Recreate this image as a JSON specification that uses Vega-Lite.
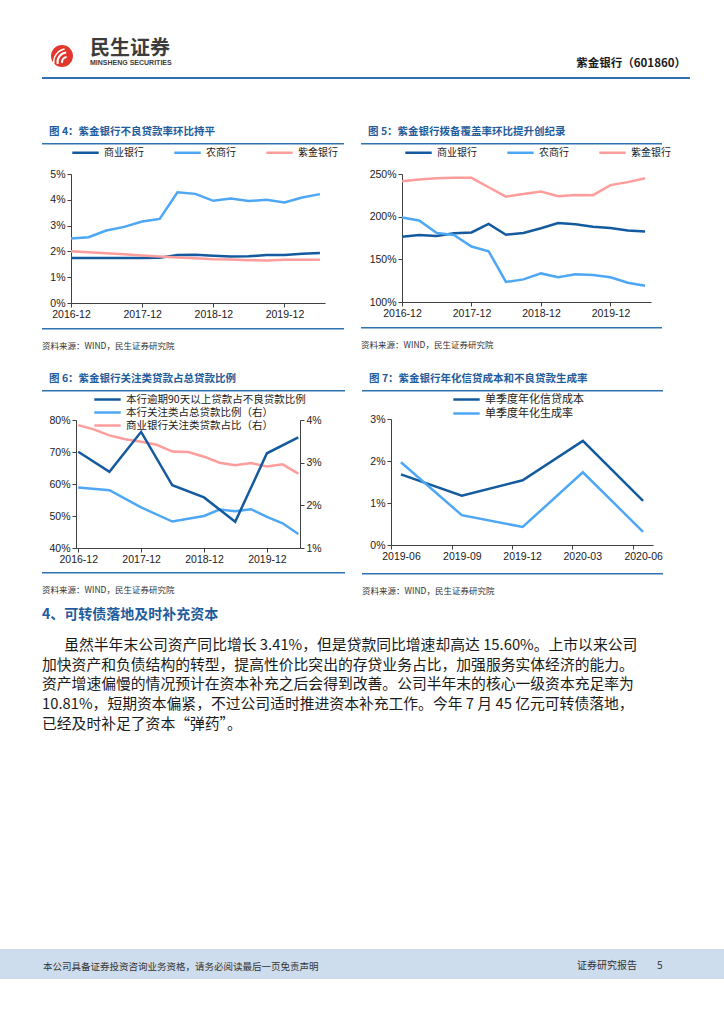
{
  "$schema": "https://vega.github.io/schema/vega-lite/v6.json",
  "background": "white",
  "padding": {"left": 0, "top": 30, "right": 0, "bottom": 0},
  "config": {
    "view": {"stroke": null},
    "font": "Noto Sans CJK SC",
    "axis": {"labelFont": "Liberation Sans", "labelFontSize": 10.5, "labelColor": "#1a1a1a", "domainColor": "#404040", "tickColor": "#404040", "domainWidth": 1, "tickSize": 4, "grid": false, "labelPadding": 2, "labelOverlap": false, "labelFlush": false, "labelBound": false},
    "legend": {"symbolType": "M-2.2,0H2.2", "symbolStrokeWidth": 3, "symbolSize": 144, "labelFont": "Noto Sans CJK SC", "labelFontSize": 10, "labelColor": "#1a1a1a", "labelOffset": 11, "columnPadding": 25, "padding": 0, "rowPadding": 0, "labelLimit": 400},
    "line": {"strokeWidth": 2.5, "clip": true},
    "title": {"font": "Noto Sans CJK SC", "anchor": "start", "frame": "group"}
  },
  "datasets": {
    "c4": [
      {"date":"2016-12-31","series":"商业银行","value":0.0174},{"date":"2017-03-31","series":"商业银行","value":0.0174},{"date":"2017-06-30","series":"商业银行","value":0.0174},{"date":"2017-09-30","series":"商业银行","value":0.0174},{"date":"2017-12-31","series":"商业银行","value":0.0174},{"date":"2018-03-31","series":"商业银行","value":0.0175},{"date":"2018-06-30","series":"商业银行","value":0.0186},{"date":"2018-09-30","series":"商业银行","value":0.0187},{"date":"2018-12-31","series":"商业银行","value":0.0183},{"date":"2019-03-31","series":"商业银行","value":0.0180},{"date":"2019-06-30","series":"商业银行","value":0.0181},{"date":"2019-09-30","series":"商业银行","value":0.0186},{"date":"2019-12-31","series":"商业银行","value":0.0186},{"date":"2020-03-31","series":"商业银行","value":0.0191},{"date":"2020-06-30","series":"商业银行","value":0.0194},
      {"date":"2016-12-31","series":"农商行","value":0.0250},{"date":"2017-03-31","series":"农商行","value":0.0255},{"date":"2017-06-30","series":"农商行","value":0.0281},{"date":"2017-09-30","series":"农商行","value":0.0295},{"date":"2017-12-31","series":"农商行","value":0.0316},{"date":"2018-03-31","series":"农商行","value":0.0326},{"date":"2018-06-30","series":"农商行","value":0.0429},{"date":"2018-09-30","series":"农商行","value":0.0423},{"date":"2018-12-31","series":"农商行","value":0.0396},{"date":"2019-03-31","series":"农商行","value":0.0405},{"date":"2019-06-30","series":"农商行","value":0.0395},{"date":"2019-09-30","series":"农商行","value":0.0400},{"date":"2019-12-31","series":"农商行","value":0.0390},{"date":"2020-03-31","series":"农商行","value":0.0409},{"date":"2020-06-30","series":"农商行","value":0.0422},
      {"date":"2016-12-31","series":"紫金银行","value":0.0201},{"date":"2017-03-31","series":"紫金银行","value":0.0197},{"date":"2017-06-30","series":"紫金银行","value":0.0193},{"date":"2017-09-30","series":"紫金银行","value":0.0189},{"date":"2017-12-31","series":"紫金银行","value":0.0184},{"date":"2018-03-31","series":"紫金银行","value":0.0180},{"date":"2018-06-30","series":"紫金银行","value":0.0176},{"date":"2018-09-30","series":"紫金银行","value":0.0173},{"date":"2018-12-31","series":"紫金银行","value":0.0170},{"date":"2019-03-31","series":"紫金银行","value":0.0169},{"date":"2019-06-30","series":"紫金银行","value":0.0166},{"date":"2019-09-30","series":"紫金银行","value":0.0165},{"date":"2019-12-31","series":"紫金银行","value":0.0168},{"date":"2020-03-31","series":"紫金银行","value":0.0168},{"date":"2020-06-30","series":"紫金银行","value":0.0168}
    ],
    "c5": [
      {"date":"2016-12-31","series":"商业银行","value":1.765},{"date":"2017-03-31","series":"商业银行","value":1.785},{"date":"2017-06-30","series":"商业银行","value":1.773},{"date":"2017-09-30","series":"商业银行","value":1.805},{"date":"2017-12-31","series":"商业银行","value":1.815},{"date":"2018-03-31","series":"商业银行","value":1.915},{"date":"2018-06-30","series":"商业银行","value":1.788},{"date":"2018-09-30","series":"商业银行","value":1.808},{"date":"2018-12-31","series":"商业银行","value":1.864},{"date":"2019-03-31","series":"商业银行","value":1.925},{"date":"2019-06-30","series":"商业银行","value":1.910},{"date":"2019-09-30","series":"商业银行","value":1.882},{"date":"2019-12-31","series":"商业银行","value":1.866},{"date":"2020-03-31","series":"商业银行","value":1.838},{"date":"2020-06-30","series":"商业银行","value":1.826},
      {"date":"2016-12-31","series":"农商行","value":1.99},{"date":"2017-03-31","series":"农商行","value":1.955},{"date":"2017-06-30","series":"农商行","value":1.81},{"date":"2017-09-30","series":"农商行","value":1.785},{"date":"2017-12-31","series":"农商行","value":1.65},{"date":"2018-03-31","series":"农商行","value":1.595},{"date":"2018-06-30","series":"农商行","value":1.235},{"date":"2018-09-30","series":"农商行","value":1.265},{"date":"2018-12-31","series":"农商行","value":1.335},{"date":"2019-03-31","series":"农商行","value":1.29},{"date":"2019-06-30","series":"农商行","value":1.325},{"date":"2019-09-30","series":"农商行","value":1.315},{"date":"2019-12-31","series":"农商行","value":1.29},{"date":"2020-03-31","series":"农商行","value":1.225},{"date":"2020-06-30","series":"农商行","value":1.19},
      {"date":"2016-12-31","series":"紫金银行","value":2.415},{"date":"2017-03-31","series":"紫金银行","value":2.435},{"date":"2017-06-30","series":"紫金银行","value":2.45},{"date":"2017-09-30","series":"紫金银行","value":2.455},{"date":"2017-12-31","series":"紫金银行","value":2.455},{"date":"2018-03-31","series":"紫金银行","value":2.345},{"date":"2018-06-30","series":"紫金银行","value":2.235},{"date":"2018-09-30","series":"紫金银行","value":2.265},{"date":"2018-12-31","series":"紫金银行","value":2.295},{"date":"2019-03-31","series":"紫金银行","value":2.24},{"date":"2019-06-30","series":"紫金银行","value":2.255},{"date":"2019-09-30","series":"紫金银行","value":2.252},{"date":"2019-12-31","series":"紫金银行","value":2.37},{"date":"2020-03-31","series":"紫金银行","value":2.405},{"date":"2020-06-30","series":"紫金银行","value":2.45}
    ],
    "c6": [
      {"date":"2016-12-31","series":"本行逾期90天以上贷款占不良贷款比例","value":0.701},{"date":"2017-06-30","series":"本行逾期90天以上贷款占不良贷款比例","value":0.638},{"date":"2017-12-31","series":"本行逾期90天以上贷款占不良贷款比例","value":0.763},{"date":"2018-06-30","series":"本行逾期90天以上贷款占不良贷款比例","value":0.596},{"date":"2018-12-31","series":"本行逾期90天以上贷款占不良贷款比例","value":0.558},{"date":"2019-06-30","series":"本行逾期90天以上贷款占不良贷款比例","value":0.482},{"date":"2019-12-31","series":"本行逾期90天以上贷款占不良贷款比例","value":0.696},{"date":"2020-06-30","series":"本行逾期90天以上贷款占不良贷款比例","value":0.746},
      {"date":"2016-12-31","series":"本行关注类占总贷款比例（右）","value":0.0242},{"date":"2017-06-30","series":"本行关注类占总贷款比例（右）","value":0.02355},{"date":"2017-12-31","series":"本行关注类占总贷款比例（右）","value":0.0195},{"date":"2018-06-30","series":"本行关注类占总贷款比例（右）","value":0.0162},{"date":"2018-12-31","series":"本行关注类占总贷款比例（右）","value":0.0175},{"date":"2019-03-31","series":"本行关注类占总贷款比例（右）","value":0.0190},{"date":"2019-06-30","series":"本行关注类占总贷款比例（右）","value":0.0186},{"date":"2019-09-30","series":"本行关注类占总贷款比例（右）","value":0.0191},{"date":"2019-12-31","series":"本行关注类占总贷款比例（右）","value":0.0173},{"date":"2020-03-31","series":"本行关注类占总贷款比例（右）","value":0.0158},{"date":"2020-06-30","series":"本行关注类占总贷款比例（右）","value":0.0133},
      {"date":"2016-12-31","series":"商业银行关注类贷款占比（右）","value":0.0388},{"date":"2017-03-31","series":"商业银行关注类贷款占比（右）","value":0.0378},{"date":"2017-06-30","series":"商业银行关注类贷款占比（右）","value":0.0364},{"date":"2017-09-30","series":"商业银行关注类贷款占比（右）","value":0.0355},{"date":"2017-12-31","series":"商业银行关注类贷款占比（右）","value":0.0349},{"date":"2018-03-31","series":"商业银行关注类贷款占比（右）","value":0.0342},{"date":"2018-06-30","series":"商业银行关注类贷款占比（右）","value":0.0326},{"date":"2018-09-30","series":"商业银行关注类贷款占比（右）","value":0.0325},{"date":"2018-12-31","series":"商业银行关注类贷款占比（右）","value":0.0314},{"date":"2019-03-31","series":"商业银行关注类贷款占比（右）","value":0.0300},{"date":"2019-06-30","series":"商业银行关注类贷款占比（右）","value":0.0294},{"date":"2019-09-30","series":"商业银行关注类贷款占比（右）","value":0.0299},{"date":"2019-12-31","series":"商业银行关注类贷款占比（右）","value":0.0291},{"date":"2020-03-31","series":"商业银行关注类贷款占比（右）","value":0.0296},{"date":"2020-06-30","series":"商业银行关注类贷款占比（右）","value":0.02745}
    ],
    "c7": [
      {"date":"2019-06-30","series":"单季度年化信贷成本","value":0.0168},{"date":"2019-09-30","series":"单季度年化信贷成本","value":0.01175},{"date":"2019-12-31","series":"单季度年化信贷成本","value":0.0154},{"date":"2020-03-31","series":"单季度年化信贷成本","value":0.0248},{"date":"2020-06-30","series":"单季度年化信贷成本","value":0.0105},
      {"date":"2019-06-30","series":"单季度年化生成率","value":0.0197},{"date":"2019-09-30","series":"单季度年化生成率","value":0.0071},{"date":"2019-12-31","series":"单季度年化生成率","value":0.0043},{"date":"2020-03-31","series":"单季度年化生成率","value":0.0173},{"date":"2020-06-30","series":"单季度年化生成率","value":0.00315}
    ]
  },
  "spacing": 206,
  "resolve": {"scale": {"color": "independent"}, "legend": {"color": "independent"}},
  "vconcat": [
    {
      "spacing": 0,
      "resolve": {"scale": {"color": "independent"}, "legend": {"color": "independent"}},
      "hconcat": [
        {"width": 42, "height": 1, "data": {"values": [{}]}, "mark": "text", "encoding": {"text": {"value": ""}}},
        {
          "spacing": 48,
          "resolve": {"scale": {"color": "independent"}, "legend": {"color": "independent"}},
          "vconcat": [
            {
              "spacing": 1,
              "vconcat": [
                {
                  "spacing": 0,
                  "hconcat": [
                    {
                      "width": 40, "height": 40, "data": {"values": [{}]},
                      "layer": [
                        {"mark": {"type": "point", "shape": "circle", "filled": true, "size": 480, "color": "#e2372c", "opacity": 1}, "encoding": {}},
                        {"mark": {"type": "arc", "theta": 4.5, "theta2": 6.2, "radius": 4, "radius2": 6, "color": "white", "xOffset": 5, "yOffset": 6}, "encoding": {}},
                        {"mark": {"type": "arc", "theta": 4.5, "theta2": 6.2, "radius": 8.5, "radius2": 10.5, "color": "white", "xOffset": 5, "yOffset": 6}, "encoding": {}},
                        {"mark": {"type": "arc", "theta": 4.6, "theta2": 6.1, "radius": 12.5, "radius2": 14, "color": "white", "xOffset": 5, "yOffset": 6}, "encoding": {}}
                      ]
                    },
                    {
                      "width": 98, "height": 1, "data": {"values": [{}]}, "mark": "text", "encoding": {"text": {"value": ""}},
                      "title": {"text": "民生证券", "subtitle": "MINSHENG SECURITIES", "orient": "bottom", "fontSize": 20, "fontWeight": "bold", "color": "#3c3c3c", "subtitleFont": "Liberation Sans", "subtitleFontSize": 7, "subtitleFontWeight": "bold", "subtitleColor": "#3c3c3c", "subtitlePadding": 0, "dx": 8, "offset": -3}
                    },
                    {
                      "width": 506, "height": 19, "data": {"values": [{}]}, "mark": "text", "encoding": {"text": {"value": ""}},
                      "title": {"text": "紫金银行（601860）", "orient": "bottom", "anchor": "end", "fontSize": 11.5, "fontWeight": "bold", "color": "#1a1a1a", "offset": 3}
                    }
                  ]
                },
                {"width": 648, "height": 2, "data": {"values": [{}]}, "mark": {"type": "rect", "color": "#2f6fb0"}, "encoding": {}}
              ]
            },
            {
              "spacing": 23,
              "resolve": {"scale": {"color": "independent"}, "legend": {"color": "independent"}},
              "vconcat": [
                {
                  "spacing": 17,
                  "resolve": {"scale": {"color": "independent"}, "legend": {"color": "independent"}},
                  "hconcat": [
                    {
                      "spacing": 0,
                      "resolve": {"scale": {"color": "independent"}, "legend": {"color": "independent"}},
                      "vconcat": [
                        {"width": 302, "height": 1, "data": {"values": [{}]}, "mark": "text", "encoding": {"text": {"value": ""}},
                         "title": {"text": "图 4：紫金银行不良贷款率环比持平", "fontSize": 10.5, "fontWeight": "bold", "color": "#1f5c9c", "dx": 7, "offset": -6}},
                        {"width": 302, "height": 1.5, "data": {"values": [{}]}, "mark": {"type": "rect", "color": "#2f72b4"}, "encoding": {}},
                        {
                          "spacing": 0,
                          "resolve": {"scale": {"color": "independent"}, "legend": {"color": "independent"}},
                          "hconcat": [
                            {"width": 1, "height": 1, "data": {"values": [{}]}, "mark": "text", "encoding": {"text": {"value": ""}}},
                            {
                              "width": 254, "height": 129,
                              "data": {"name": "c4"},
                              "mark": {"type": "line"},
                              "encoding": {
                                "x": {"field": "date", "type": "temporal", "scale": {"type": "utc", "domain": [{"year": 2016, "month": 12, "date": 31, "utc": true}, {"year": 2020, "month": 7, "date": 26, "utc": true}]},
                                      "axis": {"title": null, "format": "%Y-%m", "minExtent": 25, "values": [{"year": 2016, "month": 12, "date": 31, "utc": true}, {"year": 2017, "month": 12, "date": 31, "utc": true}, {"year": 2018, "month": 12, "date": 31, "utc": true}, {"year": 2019, "month": 12, "date": 31, "utc": true}]}},
                                "y": {"field": "value", "type": "quantitative", "scale": {"domain": [0, 0.05]}, "axis": {"title": null, "format": ".0%", "values": [0, 0.01, 0.02, 0.03, 0.04, 0.05], "minExtent": 28}},
                                "color": {"field": "series", "type": "nominal", "scale": {"domain": ["商业银行", "农商行", "紫金银行"], "range": ["#145a9e", "#4ea7f5", "#ff9c9c"]}, "legend": {"title": null, "orient": "none", "legendX": 7, "legendY": -29, "direction": "horizontal"}}
                              }
                            }
                          ]
                        },
                        {"width": 302, "height": 1.5, "data": {"values": [{}]}, "mark": {"type": "rect", "color": "#2f72b4"}, "encoding": {}},
                        {"width": 302, "height": 2, "data": {"values": [{}]}, "mark": "text", "encoding": {"text": {"value": ""}},
                         "title": {"text": "资料来源：WIND，民生证券研究院", "orient": "bottom", "fontSize": 8.5, "fontWeight": "normal", "color": "#333333", "offset": 1}}
                      ]
                    },
                    {
                      "spacing": 0,
                      "resolve": {"scale": {"color": "independent"}, "legend": {"color": "independent"}},
                      "vconcat": [
                        {"width": 301, "height": 1, "data": {"values": [{}]}, "mark": "text", "encoding": {"text": {"value": ""}},
                         "title": {"text": "图 5：紫金银行拨备覆盖率环比提升创纪录", "fontSize": 10.5, "fontWeight": "bold", "color": "#1f5c9c", "dx": 7, "offset": -6}},
                        {"width": 301, "height": 1.5, "data": {"values": [{}]}, "mark": {"type": "rect", "color": "#2f72b4"}, "encoding": {}},
                        {
                          "spacing": 0,
                          "resolve": {"scale": {"color": "independent"}, "legend": {"color": "independent"}},
                          "hconcat": [
                            {"width": 1, "height": 1, "data": {"values": [{}]}, "mark": "text", "encoding": {"text": {"value": ""}}},
                            {
                              "width": 249, "height": 128,
                              "data": {"name": "c5"},
                              "mark": {"type": "line"},
                              "encoding": {
                                "x": {"field": "date", "type": "temporal", "scale": {"type": "utc", "domain": [{"year": 2016, "month": 12, "date": 31, "utc": true}, {"year": 2020, "month": 7, "date": 31, "utc": true}]},
                                      "axis": {"title": null, "format": "%Y-%m", "minExtent": 25, "values": [{"year": 2016, "month": 12, "date": 31, "utc": true}, {"year": 2017, "month": 12, "date": 31, "utc": true}, {"year": 2018, "month": 12, "date": 31, "utc": true}, {"year": 2019, "month": 12, "date": 31, "utc": true}]}},
                                "y": {"field": "value", "type": "quantitative", "scale": {"domain": [1, 2.5]}, "axis": {"title": null, "format": ".0%", "values": [1, 1.5, 2, 2.5], "minExtent": 40}},
                                "color": {"field": "series", "type": "nominal", "scale": {"domain": ["商业银行", "农商行", "紫金银行"], "range": ["#145a9e", "#4ea7f5", "#ff9c9c"]}, "legend": {"title": null, "orient": "none", "legendX": 9, "legendY": -29, "direction": "horizontal"}}
                              }
                            }
                          ]
                        },
                        {"width": 301, "height": 1.5, "data": {"values": [{}]}, "mark": {"type": "rect", "color": "#2f72b4"}, "encoding": {}},
                        {"width": 301, "height": 2, "data": {"values": [{}]}, "mark": "text", "encoding": {"text": {"value": ""}},
                         "title": {"text": "资料来源：WIND，民生证券研究院", "orient": "bottom", "fontSize": 8.5, "fontWeight": "normal", "color": "#333333", "offset": 1}}
                      ]
                    }
                  ]
                },
                {
                  "spacing": 12,
                  "resolve": {"scale": {"color": "independent"}, "legend": {"color": "independent"}},
                  "vconcat": [
                    {
                      "spacing": 17,
                      "resolve": {"scale": {"color": "independent"}, "legend": {"color": "independent"}},
                      "hconcat": [
                        {
                          "spacing": 0,
                          "resolve": {"scale": {"color": "independent"}, "legend": {"color": "independent"}},
                          "vconcat": [
                            {"width": 303, "height": 1, "data": {"values": [{}]}, "mark": "text", "encoding": {"text": {"value": ""}},
                             "title": {"text": "图 6：紫金银行关注类贷款占总贷款比例", "fontSize": 10.5, "fontWeight": "bold", "color": "#1f5c9c", "dx": 7, "offset": -6}},
                            {"width": 303, "height": 1.5, "data": {"values": [{}]}, "mark": {"type": "rect", "color": "#2f72b4"}, "encoding": {}},
                            {
                              "spacing": 0,
                              "resolve": {"scale": {"color": "independent"}, "legend": {"color": "independent"}},
                              "hconcat": [
                                {"width": 1, "height": 1, "data": {"values": [{}]}, "mark": "text", "encoding": {"text": {"value": ""}}},
                                {
                                  "width": 224, "height": 128,
                                  "data": {"name": "c6"},
                                  "layer": [
                                    {
                                      "transform": [{"filter": {"field": "series", "oneOf": ["本行关注类占总贷款比例（右）", "商业银行关注类贷款占比（右）"]}}],
                                      "mark": {"type": "line"},
                                      "encoding": {
                                        "x": {"field": "date", "type": "temporal", "scale": {"type": "utc", "domain": [{"year": 2016, "month": 12, "date": 18, "utc": true}, {"year": 2020, "month": 7, "date": 10, "utc": true}]},
                                              "axis": {"title": null, "format": "%Y-%m", "minExtent": 24, "values": [{"year": 2016, "month": 12, "date": 31, "utc": true}, {"year": 2017, "month": 12, "date": 31, "utc": true}, {"year": 2018, "month": 12, "date": 31, "utc": true}, {"year": 2019, "month": 12, "date": 31, "utc": true}]}},
                                        "y": {"field": "value", "type": "quantitative", "scale": {"domain": [0.01, 0.04]}, "axis": {"title": null, "orient": "right", "format": ".0%", "values": [0.01, 0.02, 0.03, 0.04]}},
                                        "color": {"field": "series", "type": "nominal", "scale": {"domain": ["本行逾期90天以上贷款占不良贷款比例", "本行关注类占总贷款比例（右）", "商业银行关注类贷款占比（右）"], "range": ["#145a9e", "#4ea7f5", "#ff9c9c"]},
                                                  "legend": {"title": null, "orient": "none", "legendX": 24, "legendY": -28, "direction": "vertical", "rowPadding": -1, "labelFontSize": 10.5}}
                                      }
                                    },
                                    {
                                      "transform": [{"filter": {"field": "series", "equal": "本行逾期90天以上贷款占不良贷款比例"}}],
                                      "mark": {"type": "line"},
                                      "encoding": {
                                        "x": {"field": "date", "type": "temporal"},
                                        "y": {"field": "value", "type": "quantitative", "scale": {"domain": [0.4, 0.8]}, "axis": {"title": null, "orient": "left", "format": ".0%", "values": [0.4, 0.5, 0.6, 0.7, 0.8], "minExtent": 33}},
                                        "color": {"field": "series", "type": "nominal"}
                                      }
                                    }
                                  ],
                                  "resolve": {"scale": {"y": "independent"}}
                                }
                              ]
                            },
                            {"width": 303, "height": 1.5, "data": {"values": [{}]}, "mark": {"type": "rect", "color": "#2f72b4"}, "encoding": {}},
                            {"width": 303, "height": 2, "data": {"values": [{}]}, "mark": "text", "encoding": {"text": {"value": ""}},
                             "title": {"text": "资料来源：WIND，民生证券研究院", "orient": "bottom", "fontSize": 8.5, "fontWeight": "normal", "color": "#333333", "offset": 1}}
                          ]
                        },
                        {
                          "spacing": 0,
                          "resolve": {"scale": {"color": "independent"}, "legend": {"color": "independent"}},
                          "vconcat": [
                            {"width": 301, "height": 1, "data": {"values": [{}]}, "mark": "text", "encoding": {"text": {"value": ""}},
                             "title": {"text": "图 7：紫金银行年化信贷成本和不良贷款生成率", "fontSize": 10.5, "fontWeight": "bold", "color": "#1f5c9c", "dx": 7, "offset": -6}},
                            {"width": 301, "height": 1.5, "data": {"values": [{}]}, "mark": {"type": "rect", "color": "#2f72b4"}, "encoding": {}},
                            {
                              "spacing": 0,
                              "resolve": {"scale": {"color": "independent"}, "legend": {"color": "independent"}},
                              "hconcat": [
                                {"width": 1, "height": 1, "data": {"values": [{}]}, "mark": "text", "encoding": {"text": {"value": ""}}},
                                {
                                  "width": 262, "height": 126,
                                  "data": {"name": "c7"},
                                  "mark": {"type": "line"},
                                  "encoding": {
                                    "x": {"field": "date", "type": "temporal", "scale": {"type": "utc", "domain": [{"year": 2019, "month": 6, "date": 15, "utc": true}, {"year": 2020, "month": 7, "date": 15, "utc": true}]},
                                          "axis": {"title": null, "format": "%Y-%m", "minExtent": 28, "labelOffset": 10, "values": [{"year": 2019, "month": 6, "date": 15, "utc": true}, {"year": 2019, "month": 9, "date": 15, "utc": true}, {"year": 2019, "month": 12, "date": 15, "utc": true}, {"year": 2020, "month": 3, "date": 15, "utc": true}, {"year": 2020, "month": 6, "date": 15, "utc": true}]}},
                                    "y": {"field": "value", "type": "quantitative", "scale": {"domain": [0, 0.03]}, "axis": {"title": null, "format": ".0%", "values": [0, 0.01, 0.02, 0.03], "minExtent": 28}},
                                    "color": {"field": "series", "type": "nominal", "scale": {"domain": ["单季度年化信贷成本", "单季度年化生成率"], "range": ["#145a9e", "#4ea7f5"]},
                                              "legend": {"title": null, "orient": "none", "legendX": 68, "legendY": -27, "direction": "vertical", "rowPadding": 1, "labelFontSize": 11}}
                                  }
                                }
                              ]
                            },
                            {"width": 301, "height": 1.5, "data": {"values": [{}]}, "mark": {"type": "rect", "color": "#2f72b4"}, "encoding": {}},
                            {"width": 301, "height": 2, "data": {"values": [{}]}, "mark": "text", "encoding": {"text": {"value": ""}},
                             "title": {"text": "资料来源：WIND，民生证券研究院", "orient": "bottom", "fontSize": 8.5, "fontWeight": "normal", "color": "#333333", "offset": 1}}
                          ]
                        }
                      ]
                    },
                    {
                      "width": 648, "height": 1, "data": {"values": [{}]}, "mark": "text", "encoding": {"text": {"value": ""}},
                      "title": {
                        "text": "4、可转债落地及时补充资本",
                        "subtitle": [
                          "\u200b\u3000\u2002虽然半年末公司资产同比增长 3.41%，但是贷款同比增速却高达 15.60%。上市以来公司",
                          "加快资产和负债结构的转型，提高性价比突出的存贷业务占比，加强服务实体经济的能力。",
                          "资产增速偏慢的情况预计在资本补充之后会得到改善。公司半年末的核心一级资本充足率为",
                          "10.81%，短期资本偏紧，不过公司适时推进资本补充工作。今年 7 月 45 亿元可转债落地，",
                          "已经及时补足了资本“弹药”。"
                        ],
                        "fontSize": 14, "fontWeight": "bold", "color": "#1f5c9c",
                        "subtitleFont": "Noto Sans CJK SC", "subtitleFontSize": 14.8, "subtitleColor": "#1a1a1a", "subtitleLineHeight": 19.6, "subtitlePadding": 16, "offset": 0
                      }
                    }
                  ]
                }
              ]
            }
          ]
        }
      ]
    },
    {
      "spacing": 0,
      "hconcat": [
        {"width": 560, "height": 30, "data": {"values": [{}]}, "mark": "text", "encoding": {"text": {"value": ""}}, "view": {"fill": "#cedded", "stroke": null},
         "title": {"text": "本公司具备证券投资咨询业务资格，请务必阅读最后一页免责声明", "fontSize": 9.5, "fontWeight": "normal", "color": "#333333", "dx": 43, "offset": -22}},
        {"width": 164, "height": 30, "data": {"values": [{}]}, "mark": "text", "encoding": {"text": {"value": ""}}, "view": {"fill": "#cedded", "stroke": null},
         "title": {"text": "证券研究报告\u3000\u30005", "fontSize": 10, "fontWeight": "normal", "color": "#333333", "dx": 17, "offset": -22}}
      ]
    }
  ]
}
